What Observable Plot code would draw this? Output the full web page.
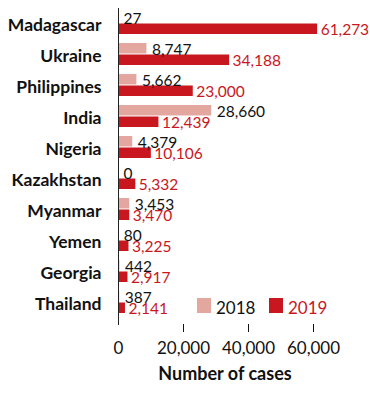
<!DOCTYPE html>
<html><head><meta charset="utf-8">
<script src="https://cdn.jsdelivr.net/npm/d3@7"></script>
<script src="https://cdn.jsdelivr.net/npm/@observablehq/plot@0.6"></script>
<style>
body{margin:0;background:#fff;font-family:Lato,sans-serif}
#wrap{position:relative;width:370px;height:400px}
.sq{position:absolute;width:14px;height:15px}
.lt{position:absolute;font-size:17px;line-height:1}
</style>
</head><body><div id="wrap"></div>
<script>
const countries = ["Madagascar","Ukraine","Philippines","India","Nigeria","Kazakhstan","Myanmar","Yemen","Georgia","Thailand"];
const cases2018 = [27, 8747, 5662, 28660, 4379, 0, 3453, 80, 442, 387];
const cases2019 = [61273, 34188, 23000, 12439, 10106, 5332, 3470, 3225, 2917, 2141];
const xTicks = [0, 20000, 40000, 60000];
const years = ["2018", "2019"];
const colors = ["#e3a7a0", "#c8171e"];
const axisTitle = "Number of cases";

const data = countries.map((c, i) => ({country: c, v2018: cases2018[i], v2019: cases2019[i]}));
const fmt = d3.format(",");

const chart = Plot.plot({
  width: 370, height: 400,
  marginTop: 8, marginBottom: 76, marginLeft: 118, marginRight: 57,
  style: {fontFamily: "Lato, sans-serif", background: "#fff", color: "#111"},
  x: {domain: [0, 60000]},
  y: {domain: countries, paddingInner: 0.3, paddingOuter: 0.17, align: 0.28},
  marks: [
    Plot.barX(data, {x: "v2018", y: "country", fill: colors[0], insetBottom: 11.5}),
    Plot.barX(data, {x: "v2019", y: "country", fill: colors[1], insetTop: 11.5}),
    Plot.text(data, {x: "v2018", y: "country", text: d => fmt(d.v2018), textAnchor: "start", lineAnchor: "bottom", dx: 5, fontSize: 15.5, fill: "#111"}),
    Plot.text(data, {x: "v2019", y: "country", text: d => fmt(d.v2019), textAnchor: "start", lineAnchor: "bottom", dx: 3, dy: 11.5, fontSize: 15.5, fill: colors[1]}),
    Plot.frame({anchor: "left", stroke: "#222"}),
    Plot.axisY({tickSize: 0, tickPadding: 17, dy: 2, fontSize: 17.5, fontWeight: "bold", label: null}),
    Plot.axisX({ticks: xTicks.slice(1), tickSize: 8, tickFormat: () => "", label: null}),
    Plot.axisX({ticks: xTicks, tickSize: 0, tickPadding: 17, tickFormat: fmt, fontSize: 17, label: null}),
    Plot.text([axisTitle], {frameAnchor: "bottom", text: d => d, lineAnchor: "top", dy: 43, dx: 9, fontSize: 18, fontWeight: "bold"})
  ]
});
const wrap = document.getElementById("wrap");
wrap.appendChild(chart);
const legend = [
  {sq: [197, 298], tx: [216, 299], color: colors[0], text: years[0], tcolor: "#111"},
  {sq: [269, 298], tx: [288, 299], color: colors[1], text: years[1], tcolor: colors[1]}
];
for (const l of legend) {
  const s = document.createElement("div");
  s.className = "sq"; s.style.left = l.sq[0] + "px"; s.style.top = l.sq[1] + "px"; s.style.background = l.color;
  const t = document.createElement("div");
  t.className = "lt"; t.style.left = l.tx[0] + "px"; t.style.top = l.tx[1] + "px"; t.style.color = l.tcolor; t.textContent = l.text;
  wrap.appendChild(s); wrap.appendChild(t);
}
</script>
</body></html>
